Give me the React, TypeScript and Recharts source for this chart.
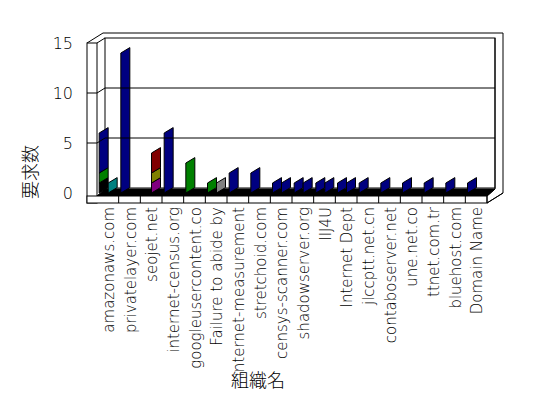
import React from 'react';
import { Bar, BarChart, Customized, XAxis, YAxis } from 'recharts';

// 組織名
const categories = [
  'amazonaws.com',
  'privatelayer.com',
  'seojet.net',
  'internet-census.org',
  'googleusercontent.co',
  'Failure to abide by',
  'internet-measurement',
  'stretchoid.com',
  'censys-scanner.com',
  'shadowserver.org',
  'IIJ4U',
  'Internet Dept',
  'jlccptt.net.cn',
  'contaboserver.net',
  'une.net.co',
  'ttnet.com.tr',
  'bluehost.com',
  'Domain Name',
];

// left stack of each category
const blackA = [1, 0, 0, 0, 0, 0, 0, 0, 0, 0, 0, 0, 0, 0, 0, 0, 0, 0];
const greenA = [1, 0, 0, 0, 3, 1, 0, 0, 0, 0, 0, 0, 0, 0, 0, 0, 0, 0];
const navyA = [4, 14, 0, 6, 0, 0, 2, 2, 1, 1, 1, 1, 1, 1, 1, 1, 1, 1];

// right stack of each category
const tealB = [1, 0, 0, 0, 0, 0, 0, 0, 0, 0, 0, 0, 0, 0, 0, 0, 0, 0];
const purpleB = [0, 0, 1, 0, 0, 0, 0, 0, 0, 0, 0, 0, 0, 0, 0, 0, 0, 0];
const oliveB = [0, 0, 1, 0, 0, 0, 0, 0, 0, 0, 0, 0, 0, 0, 0, 0, 0, 0];
const maroonB = [0, 0, 2, 0, 0, 0, 0, 0, 0, 0, 0, 0, 0, 0, 0, 0, 0, 0];
const grayB = [0, 0, 0, 0, 0, 1, 0, 0, 0, 0, 0, 0, 0, 0, 0, 0, 0, 0];
const navyB = [0, 0, 0, 0, 0, 0, 0, 0, 1, 1, 1, 1, 0, 0, 0, 0, 0, 0];

const yTicks = [0, 5, 10, 15];

const data = categories.map((name, i) => ({
  name,
  blackA: blackA[i],
  greenA: greenA[i],
  navyA: navyA[i],
  tealB: tealB[i],
  purpleB: purpleB[i],
  oliveB: oliveB[i],
  maroonB: maroonB[i],
  grayB: grayB[i],
  navyB: navyB[i],
}));

// chart geometry
const W = 548;
const H = 398;
const PL = 97;
const PR = 487;
const PT = 43;
const PB = 193;
const BAND = (PR - PL) / categories.length;
const WALL = 87; // front edge of left wall
const DX = 8; // back wall shift
const DY = -5;
const FONT = '"DejaVu Sans", sans-serif';
const JFONT = '"Noto Sans CJK JP", sans-serif';

// 3d bar: side face seen as a parallelogram
const Bar3D = (props: any) => {
  const { x, y, width, height, fill } = props;
  if (!height || height <= 0) return null;
  const r = width * 0.6;
  const pts = `${x},${y + height} ${x},${y} ${x + width},${y - r} ${x + width},${y + height - r}`;
  return <polygon points={pts} fill={fill} stroke="#000" strokeWidth={1} />;
};

const YTick = (props: any) => {
  const { y, payload } = props;
  const v = payload.value;
  return (
    <g>
      <text
        x={73}
        y={y}
        textAnchor="end"
        dominantBaseline="central"
        fontFamily={FONT}
        fontWeight={200}
        fontSize={16}
        fill="#000"
      >
        {v}
      </text>
      {v > 0 && v < 15 && (
        <polyline
          points={`${WALL},${y} ${PL},${y} ${PL + DX},${y + DY} ${PR + DX},${y + DY}`}
          fill="none"
          stroke="#000"
        />
      )}
    </g>
  );
};

const XTick = (props: any) => {
  const { x, payload } = props;
  const ty = 207;
  return (
    <g>
      <line x1={x + BAND / 2} y1={196} x2={x + BAND / 2} y2={203} stroke="#000" />
      <text
        x={x + 1}
        y={ty}
        transform={`rotate(-90, ${x + 1}, ${ty})`}
        textAnchor="end"
        dominantBaseline="central"
        fontFamily={FONT}
        fontWeight={200}
        fontSize={15}
        fill="#000"
      >
        {payload.value}
      </text>
    </g>
  );
};

const Frame = () => (
  <g>
    {/* outer box */}
    <polyline
      points={`${WALL},${PT} ${WALL + 16},${PT - 10} ${PR + 16},${PT - 10} ${PR + 16},${PB} ${PR},${203}`}
      fill="none"
      stroke="#000"
    />
    {/* back wall */}
    <rect x={PL + DX} y={PT + DY} width={PR - PL} height={PB - PT} fill="#fff" stroke="#000" />
    <line x1={PL} y1={PT} x2={PL + DX} y2={PT + DY} stroke="#000" />
    {/* left wall */}
    <rect x={WALL} y={PT} width={PL - WALL} height={203 - PT} fill="#fff" stroke="#000" />
    {/* floor */}
    <polygon
      points={`${PL},${196} ${PR},${196} ${PR + DX},${189} ${PL + DX},${189}`}
      fill="#000"
      stroke="#000"
    />
    <rect x={WALL} y={196} width={PR - WALL} height={7} fill="#fff" stroke="#000" />
    <polyline points={`${PR},${196} ${PR + DX},${189} ${PR + DX},${PT + DY}`} fill="none" stroke="#000" />
    <polyline points={`${PR},${203} ${PR + 16},${PB}`} fill="none" stroke="#000" />
    <text
      x={29}
      y={172}
      transform="rotate(-90, 29, 172)"
      textAnchor="middle"
      dominantBaseline="central"
      fontFamily={JFONT}
      fontWeight={300}
      fontSize={18}
      fill="#000"
    >
      要求数
    </text>
    <text
      x={258}
      y={379}
      textAnchor="middle"
      dominantBaseline="central"
      fontFamily={JFONT}
      fontWeight={300}
      fontSize={18}
      fill="#000"
    >
      組織名
    </text>
  </g>
);

const App: React.FC = () => {
  return (
    <div style={{ position: 'absolute', left: 0, top: 0, width: W, height: H, background: '#fff' }}>
      <BarChart
        width={W}
        height={H}
        data={data}
        margin={{ top: PT, right: W - PR, bottom: 0, left: 0 }}
        barGap={0}
        barCategoryGap="10%"
      >
        <Customized component={Frame} />
        <YAxis
          width={PL}
          domain={[0, 15]}
          ticks={yTicks}
          interval={0}
          axisLine={false}
          tickLine={false}
          tick={<YTick />}
        />
        <XAxis
          dataKey="name"
          height={H - PB}
          interval={0}
          axisLine={false}
          tickLine={false}
          tick={<XTick />}
        />
        <Bar dataKey="blackA" stackId="a" fill="#000000" shape={<Bar3D />} isAnimationActive={false} />
        <Bar dataKey="greenA" stackId="a" fill="#008000" shape={<Bar3D />} isAnimationActive={false} />
        <Bar dataKey="navyA" stackId="a" fill="#000080" shape={<Bar3D />} isAnimationActive={false} />
        <Bar dataKey="tealB" stackId="b" fill="#008080" shape={<Bar3D />} isAnimationActive={false} />
        <Bar dataKey="purpleB" stackId="b" fill="#800080" shape={<Bar3D />} isAnimationActive={false} />
        <Bar dataKey="oliveB" stackId="b" fill="#808000" shape={<Bar3D />} isAnimationActive={false} />
        <Bar dataKey="maroonB" stackId="b" fill="#800000" shape={<Bar3D />} isAnimationActive={false} />
        <Bar dataKey="grayB" stackId="b" fill="#808080" shape={<Bar3D />} isAnimationActive={false} />
        <Bar dataKey="navyB" stackId="b" fill="#000080" shape={<Bar3D />} isAnimationActive={false} />
      </BarChart>
    </div>
  );
};

export default App;
